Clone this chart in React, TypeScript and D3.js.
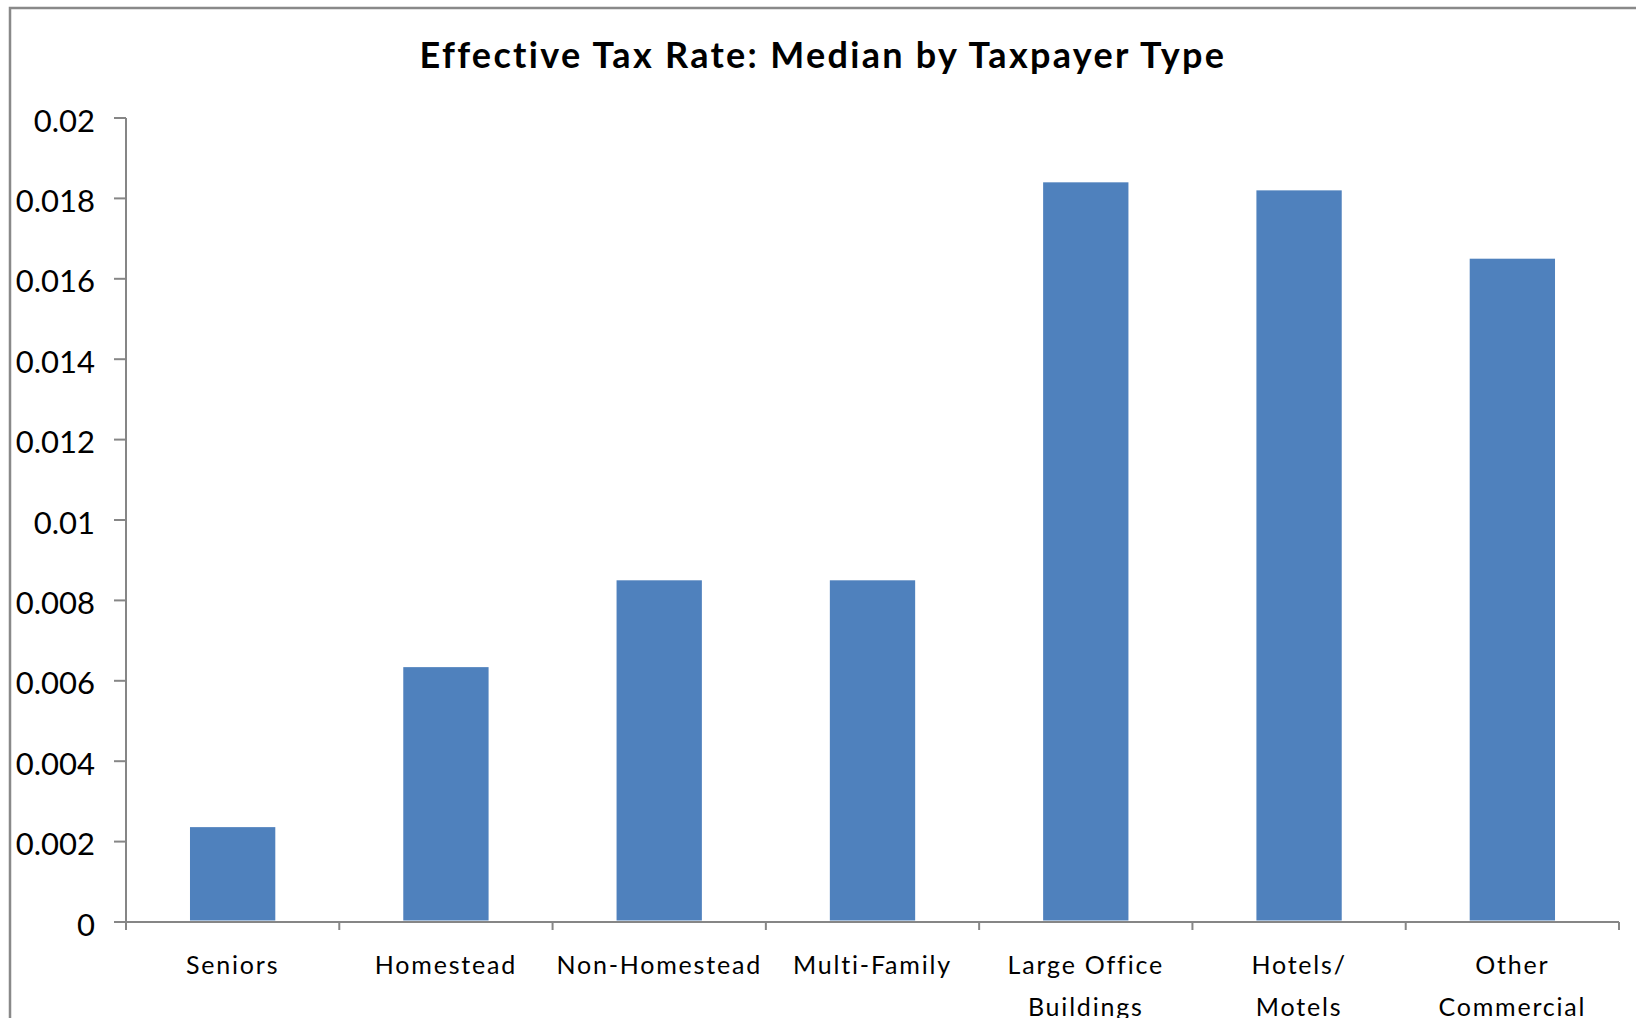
import React from "react";
import * as d3 from "d3";

const categories: string[] = [
  "Seniors",
  "Homestead",
  "Non-Homestead",
  "Multi-Family",
  "Large Office Buildings",
  "Hotels/ Motels",
  "Other Commercial",
];
const categoryLines: string[][] = [
  ["Seniors"],
  ["Homestead"],
  ["Non-Homestead"],
  ["Multi-Family"],
  ["Large Office", "Buildings"],
  ["Hotels/", "Motels"],
  ["Other", "Commercial"],
];
const medianRates: number[] = [0.00236, 0.00634, 0.0085, 0.0085, 0.0184, 0.0182, 0.0165];
const yTicks: number[] = [0, 0.002, 0.004, 0.006, 0.008, 0.01, 0.012, 0.014, 0.016, 0.018, 0.02];
const yTickLabels: string[] = ["0", "0.002", "0.004", "0.006", "0.008", "0.01", "0.012", "0.014", "0.016", "0.018", "0.02"];
const title = "Effective Tax Rate: Median by Taxpayer Type";

const W = 1636;
const H = 1018;
const plotLeft = 126;
const plotRight = 1619;
const plotTop = 118;
const plotBottom = 922;
const axisColor = "#868686";
const barColor = "#4F81BD";
const font = "Lato, 'Open Sans', sans-serif";

export default function App() {
  const x = d3.scaleBand<string>().domain(categories).range([plotLeft, plotRight]).paddingInner(0.6).paddingOuter(0.3);
  const xb = d3.scaleBand<string>().domain(categories).range([plotLeft, plotRight]);
  const y = d3.scaleLinear().domain([0, 0.02]).range([plotBottom, plotTop]);
  const boundaries = categories.map((c) => xb(c) as number).concat([plotRight]);

  return (
    <svg width={W} height={H} style={{ position: "absolute", left: 0, top: 0, background: "#fff" }}>
      <rect x={0} y={0} width={W} height={H} fill="#fff" />
      <rect x={10} y={8} width={W + 20} height={H + 20} fill="none" stroke="#898989" strokeWidth={2.5} />
      <text x={823} y={68} textAnchor="middle" fontFamily={font} fontWeight="bold" fontSize={36} letterSpacing={2.3} fill="#000">
        {title}
      </text>
      {categories.map((c, i) => (
        <rect
          key={c}
          x={x(c) as number}
          y={y(medianRates[i])}
          width={x.bandwidth()}
          height={plotBottom - 1.5 - y(medianRates[i])}
          fill={barColor}
        />
      ))}
      {/* y axis */}
      <line x1={plotLeft} x2={plotLeft} y1={plotTop} y2={plotBottom + 8} stroke={axisColor} strokeWidth={2} />
      {yTicks.map((t, i) => (
        <g key={i}>
          <line x1={plotLeft - 12} x2={plotLeft} y1={y(t)} y2={y(t)} stroke={axisColor} strokeWidth={2} />
          <text x={95} y={y(t) + 13.5} textAnchor="end" fontFamily={font} fontSize={31} fill="#000">
            {yTickLabels[i]}
          </text>
        </g>
      ))}
      {/* x axis */}
      <line x1={plotLeft - 12} x2={plotRight} y1={plotBottom} y2={plotBottom} stroke={axisColor} strokeWidth={2} />
      {boundaries.map((b, i) => (
        <line key={i} x1={b} x2={b} y1={plotBottom} y2={plotBottom + 8} stroke={axisColor} strokeWidth={2} />
      ))}
      {categories.map((c, i) => (
        <text
          key={c}
          x={(xb(c) as number) + xb.bandwidth() / 2}
          y={974}
          textAnchor="middle"
          fontFamily={font}
          fontSize={25}
          letterSpacing={1.8}
          fill="#000"
        >
          {categoryLines[i].map((line, j) => (
            <tspan key={j} x={(xb(c) as number) + xb.bandwidth() / 2} dy={j === 0 ? 0 : 42}>
              {line}
            </tspan>
          ))}
        </text>
      ))}
    </svg>
  );
}
